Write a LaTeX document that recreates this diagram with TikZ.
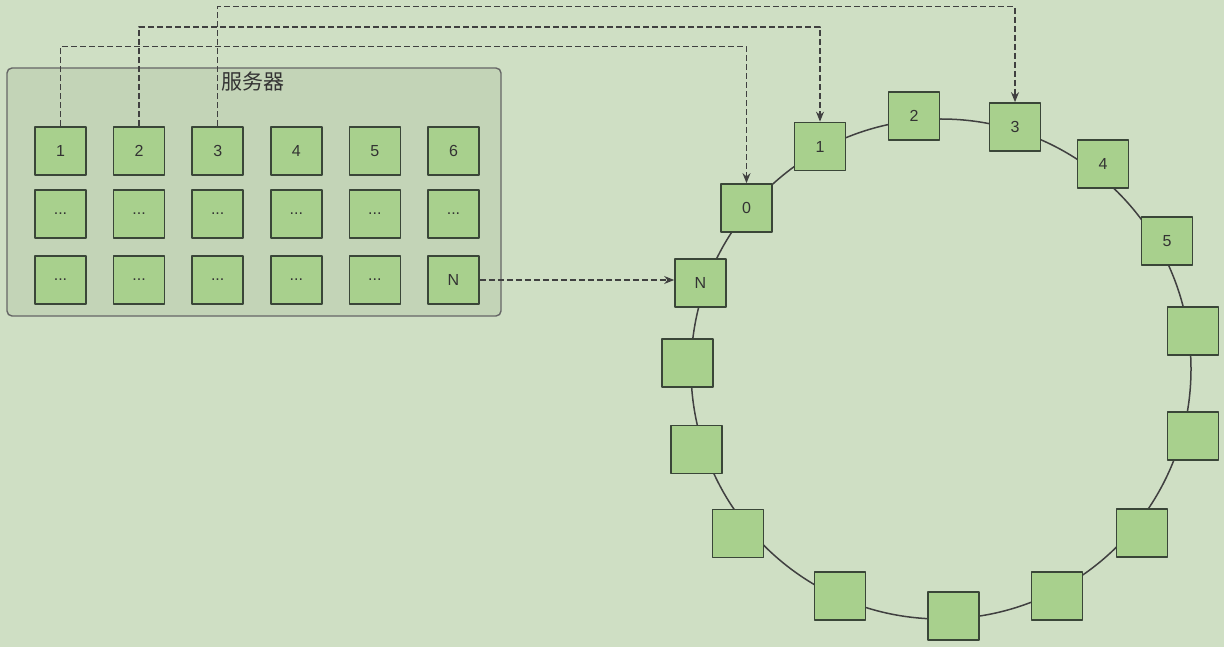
\documentclass[tikz,border=0pt]{standalone}
\usepackage{fontspec}
\setmainfont{Liberation Sans}
\newfontfamily\cjk{Noto Sans CJK SC}
\usetikzlibrary{arrows.meta}
\definecolor{bggreen}{HTML}{CFDFC4}
\definecolor{srvgreen}{HTML}{C3D4B7}
\definecolor{cellgreen}{HTML}{A8D08D}
\definecolor{edgegray}{HTML}{3A4638}
\begin{document}
\begin{tikzpicture}[x=1pt,y=-1pt, line join=round, font=\fontsize{16}{19}\selectfont, >={Stealth[length=10pt,width=8pt]},
  cell/.style={draw=edgegray, fill=cellgreen, line width=1.7pt, minimum width=51pt, minimum height=48pt, inner sep=0pt, text=black!80},
  link/.style={->, line width=1.5pt, draw=black!75, dash pattern=on 6pt off 3pt}]
  \fill[bggreen] (0,0) rectangle (1224,647);
  \useasboundingbox (0,0) rectangle (1224,647);
  % server
  \draw[fill=srvgreen, draw=black!60, rounded corners=5pt, line width=1.4pt] (7,68) rectangle (501,316);
  \node[font=\cjk\fontsize{21}{24}\selectfont, text=black!80] (title) at (253,82) {服务器};
  \foreach \i in {1,...,6}
    \node[cell] (g\i) at ({60.5+78.6*(\i-1)},151) {\i};
  \foreach \i in {1,...,6}
    \node[cell] (h\i) at ({60.5+78.6*(\i-1)},214) {...};
  \foreach \i in {1,...,5}
    \node[cell] (k\i) at ({60.5+78.6*(\i-1)},280) {...};
  \node[cell] (gN) at (453.5,280) {N};
  % ring
  \draw[line width=1.5pt, draw=black!75] (941,369) circle[radius=250];
  \foreach \n/\x/\y/\t in {rN/700.5/283/N, r0/746.5/208/0, r1/820/146.5/1, r2/914/116/2,
      r3/1015/127/3, r4/1103/164/4, r5/1167/241/5}
    \node[cell] (\n) at (\x,\y) {\t};
  \foreach \x/\y [count=\i] in {1193/331, 1193/436, 1142/533, 1057/596, 953.5/616,
      840/596, 738/533.5, 696.5/449.5, 687.5/363}
    \node[cell] (b\i) at (\x,\y) {};
  % links
  \draw[link] (g1.north) -- ++(0,-79.5) -| (r0.north);
  \draw[link] (g2.north) -- ++(0,-99) -| (r1.north);
  \draw[link] (g3.north) -- ++(0,-119.5) -| (r3.north);
  \draw[link] (gN.east) -- (gN.east -| rN.west);
\end{tikzpicture}
\end{document}
